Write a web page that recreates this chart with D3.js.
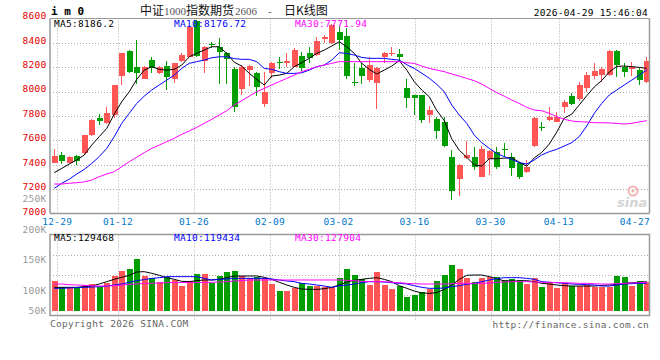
<!DOCTYPE html>
<html><head><meta charset="utf-8">
<script src="https://cdn.jsdelivr.net/npm/d3@7/dist/d3.min.js"></script>
<style>
html,body{margin:0;padding:0;background:#fff;}
svg{display:block;}
.mono{font-family:"DejaVu Sans Mono",monospace;font-size:9.5px;letter-spacing:0.3px;}
</style></head><body>
<svg id="c" width="660" height="360"></svg>
<script>
// ---------- DATA ----------
const dates = ["12-26","12-29","12-30","12-31","01-05","01-06","01-07","01-08","01-09","01-12",
"01-13","01-14","01-15","01-16","01-19","01-20","01-21","01-22","01-23","01-26",
"01-27","01-28","01-29","01-30","02-02","02-03","02-04","02-05","02-06","02-09",
"02-10","02-11","02-12","02-13","02-24","02-25","02-26","02-27","03-02","03-03",
"03-04","03-05","03-06","03-09","03-10","03-11","03-12","03-13","03-16","03-17",
"03-18","03-19","03-20","03-23","03-24","03-25","03-26","03-27","03-30","03-31",
"04-01","04-02","04-03","04-07","04-08","04-09","04-10","04-13","04-14","04-15",
"04-16","04-17","04-20","04-21","04-22","04-23","04-24","04-27","04-28","04-29"];

const open  = [7418,7481,7418,7473,7494,7644,7786,7740,7808,8127,
8332,8204,8105,8258,8154,8209,8100,8253,8286,8575,
8250,8388,8368,8313,8182,8019,8177,8149,7898,8155,
8245,8232,8204,8291,8318,8300,8428,8395,8490,8455,
8081,8190,8095,8068,8281,8305,8305,8027,7972,7972,
7808,7773,7754,7467,7282,7454,7467,7298,7445,7508,
7532,7467,7413,7344,7554,7708,7767,7753,7871,7963,
7936,8026,8128,8136,8136,8334,8204,8182,8177,8081];
const high  = [7527,7505,7473,7483,7647,7773,7816,7871,8054,8318,
8340,8422,8209,8285,8209,8247,8236,8313,8535,8590,
8370,8410,8440,8326,8200,8220,8220,8163,8163,8240,
8281,8313,8354,8326,8368,8450,8463,8553,8531,8520,
8232,8232,8286,8200,8320,8368,8345,8100,7975,7975,
7882,7789,7794,7522,7407,7598,7543,7554,7522,7549,
7576,7494,7426,7440,7790,7753,7871,7833,7931,7985,
8081,8163,8231,8204,8340,8340,8236,8245,8190,8281];
const low   = [7412,7407,7412,7396,7483,7636,7729,7734,7781,8054,
8154,8062,8100,8149,8144,8013,8067,8245,8281,8285,
8150,8355,8058,8060,7835,7975,8046,7963,7871,8108,
8182,8204,8199,8171,8231,8295,8395,8390,8340,8100,
8046,8062,8081,7855,8237,8291,8253,7863,7808,7740,
7740,7609,7550,7112,7145,7445,7358,7298,7317,7363,
7467,7310,7282,7330,7550,7680,7762,7750,7822,7890,
7925,7999,8100,8081,8130,8116,8116,8127,8054,8072];
const close = [7473,7434,7467,7434,7644,7767,7762,7827,8054,8318,
8163,8154,8204,8195,8198,8122,8236,8300,8531,8290,
8362,8380,8325,8268,7871,8204,8209,8040,7999,8237,
8232,8253,8340,8190,8272,8417,8449,8545,8422,8125,
8068,8128,8218,8196,8313,8313,8281,7945,7950,7767,
7849,7680,7555,7189,7399,7481,7380,7527,7513,7380,
7524,7372,7303,7385,7786,7702,7795,7795,7917,7898,
8054,8136,8172,8182,8334,8217,8163,8204,8095,8253];

const ma5  = [7336,7371,7407,7440,7481,7562,7631,7699,7816,7917,
7999,8100,8176,8204,8182,8176,8182,8217,8285,8313,
8340,8367,8367,8313,8240,8209,8149,8100,8054,8127,
8135,8149,8204,8236,8272,8313,8340,8373,8408,8367,
8313,8231,8182,8144,8176,8209,8253,8176,8081,8013,
7958,7845,7762,7612,7520,7462,7400,7390,7450,7450,
7455,7458,7422,7389,7457,7502,7570,7668,7783,7815,
7891,7966,8038,8091,8160,8206,8209,8204,8198,8190];
const ma10 = [7208,7249,7282,7325,7363,7412,7467,7535,7631,7740,
7822,7903,7963,8013,8054,8094,8135,8190,8231,8245,
8258,8277,8285,8285,8270,8264,8264,8245,8190,8182,
8163,8149,8149,8154,8176,8204,8217,8258,8318,8313,
8299,8280,8272,8272,8272,8264,8258,8220,8190,8150,
8110,8059,7999,7890,7808,7740,7644,7582,7535,7494,
7467,7445,7418,7407,7440,7481,7508,7527,7554,7582,
7631,7718,7822,7903,7972,8013,8054,8094,8135,8177];
const ma30 = [7243,7243,7249,7254,7260,7276,7303,7325,7344,7385,
7426,7462,7500,7535,7562,7590,7617,7650,7677,7707,
7740,7773,7808,7843,7890,7925,7963,7999,8026,8054,
8081,8108,8135,8163,8182,8204,8217,8231,8245,8245,
8245,8245,8245,8245,8245,8245,8245,8236,8231,8209,
8190,8176,8163,8144,8127,8108,8089,8062,8026,7991,
7963,7931,7903,7871,7849,7843,7822,7794,7773,7759,
7753,7751,7745,7745,7743,7740,7734,7740,7751,7762];

const volume = [116000,105600,106600,104000,109400,111000,105600,113200,124700,132900,
135700,152100,124700,120400,114800,123000,117600,108200,116000,127500,
127500,112200,124700,130800,132400,124700,120400,123000,120400,111500,
99500,99500,105000,112700,107700,107700,105600,105600,121400,135700,
125800,118700,109400,130800,109400,102800,107700,90100,92900,97900,
102300,116000,125800,142300,135700,121400,114300,121400,123000,122500,
117600,118700,117600,111500,121400,106100,112200,105000,112200,107700,
107700,109400,106600,105600,106600,124700,122500,108200,116000,114800];
const volMa5 = [105500,105500,105500,105500,106600,107700,111000,114900,118700,122000,
125300,130800,131300,128600,125300,121400,118700,115400,114900,116500,
117600,117600,118700,121400,124200,124200,124200,124200,122000,118700,
113800,109400,105500,102800,102200,102200,103300,105500,109400,114300,
117000,118700,120300,121400,118700,114900,108200,103900,99500,96200,
95700,96800,102200,109400,118700,125300,125800,125800,123100,119800,
116000,116000,116000,116500,114900,112100,111000,109400,108200,107700,
107700,107700,107700,108800,109400,110500,112100,113200,113800,114900];
const volMa10 = [103900,103900,104500,105000,105500,106000,106600,107700,109400,111000,
113800,116500,118200,120300,121400,123100,123100,123100,123100,123100,
120300,117600,118700,119200,120300,120300,120300,120300,120300,119200,
117600,116000,114900,112100,111000,109400,107700,105500,108200,109400,
111000,113200,114900,114900,114300,113200,112100,111000,108200,105500,
103900,103900,104400,106600,108200,110500,112100,114900,117600,119800,
121400,121400,121400,120300,118700,114900,113800,113200,112100,111000,
110500,109900,109400,107700,107700,109400,111000,111500,112100,112100];
const volMa30 = [111000,111000,109900,109400,108800,108200,107700,107700,108200,109400,
110500,111000,112100,112100,112700,113200,113500,113500,113500,113500,
113500,113800,114300,114900,116000,116500,117600,117600,117600,117600,
117600,117600,117600,117600,117600,117600,117600,117600,117600,117000,
116500,115400,114900,114900,114900,113800,113200,112100,111500,111000,
111000,111000,111000,111500,112100,112100,112100,112100,112700,113800,
114300,114900,114900,114900,114300,113800,113800,113200,113200,112700,
112100,112100,111500,111000,111000,111500,112100,112700,113200,113800];

const priceTicks = [8600,8400,8200,8000,7800,7600,7400,7200,7000];
const volTicks = [250000,200000,150000,100000,50000];
const volTickLabels = ["250K","200K","150K","100K","50K"];
const dateTicks = ["12-29","01-12","01-26","02-09","03-02","03-16","03-30","04-13","04-27"];
const priceLegend = ["MA5:8186.2","MA10:8176.72","MA30:7771.94"];
const volLegend = ["MA5:129468","MA10:119434","MA30:127904"];
const maColors = ["#000000","#0000ff","#ff00ff"];
const symbol = "i m 0";
const titleParts = ["中证","1000","指数期货","2606","-","日K线图"];
const stamp = "2026-04-29 15:46:04";
const copyright = "Copyright 2026 SINA.COM";
const site = "http://finance.sina.com.cn";

// ---------- LAYOUT ----------
const L = 50, R = 649.5, T = 18.5, B = 213.5, VT = 234.5, VB = 315.5, VBASE = 311;
const UP = "#ff5555", DOWN = "#009e00", GRID = "#aaaaaa", BORDER = "#999999";

const n = dates.length;
const xC = d3.scaleLinear().domain([0, n - 1]).range([53.75, 646.25]);
const xG = d3.scaleLinear().domain([0, n - 1]).range([49.7, 650.1]);
const y = d3.scaleLinear().domain([7000, 8600]).range([213.7, 18.3]);
const yV = d3.scaleLinear().domain([100000, 150000]).range([290.7, 260.3]);

const svg = d3.select("#c");
const defs = svg.append("defs");
defs.append("clipPath").attr("id","cm").append("rect").attr("x",L).attr("y",T).attr("width",R-L).attr("height",B-T);
defs.append("clipPath").attr("id","cv").append("rect").attr("x",L).attr("y",VT).attr("width",R-L).attr("height",VB-VT);

const idx = d3.range(n);
const tickIdx = dateTicks.map(d => dates.indexOf(d));

// ---------- HEADER ----------
svg.append("text").attr("class","mono").attr("x",51).attr("y",15)
  .style("font-weight","bold").style("font-size","11px").style("letter-spacing","0px").attr("fill","#000").text(symbol);

const tPos = [140,164,186,235,268,284];
const title = svg.append("text").attr("y",15).attr("fill","#222");
titleParts.forEach((p,i) => {
  const isNum = /^[0-9\-]+$/.test(p);
  title.append("tspan").attr("x",tPos[i])
    .style("font-family", isNum ? "'Liberation Serif',serif" : "'Noto Sans CJK SC',sans-serif")
    .style("font-size", isNum ? "11px" : "12px")
    .attr("fill", isNum ? "#555" : "#111")
    .text(p);
});
svg.append("text").attr("class","mono").attr("x",648).attr("y",15.5).attr("text-anchor","end").attr("fill","#000").text(stamp);

// ---------- MAIN PANEL ----------
const gm = svg.append("g");
gm.selectAll("line.hg").data(priceTicks.filter(t => t < 8600 && t > 7000)).join("line")
  .attr("x1",L).attr("x2",R).attr("y1",d=>Math.round(y(d))+0.5).attr("y2",d=>Math.round(y(d))+0.5)
  .attr("stroke",GRID).attr("stroke-dasharray","1,2");
const vIdx = tickIdx.filter(i => xG(i) < R - 20);
gm.selectAll("line.vg").data(vIdx).join("line")
  .attr("x1",d=>Math.round(xG(d))+0.5).attr("x2",d=>Math.round(xG(d))+0.5).attr("y1",T).attr("y2",B)
  .attr("stroke",GRID).attr("stroke-dasharray","1,2");

// sina watermark
const wm = svg.append("g");
wm.append("circle").attr("cx",633).attr("cy",191).attr("r",4.5).attr("fill","none").attr("stroke","#f2b5b5").attr("stroke-width",2);
wm.append("circle").attr("cx",633).attr("cy",191).attr("r",1.6).attr("fill","#f2b5b5");
wm.append("text").attr("x",617).attr("y",207).style("font-family","'DejaVu Sans',sans-serif")
  .style("font-size","13px").style("font-style","italic").style("font-weight","bold").attr("fill","#d4d4d4").text("sina");

const cm = gm.append("g").attr("clip-path","url(#cm)");
const cx = i => Math.round(xC(i));
cm.selectAll("line.wick").data(idx).join("line")
  .attr("x1",i=>cx(i)+0.5).attr("x2",i=>cx(i)+0.5)
  .attr("y1",i=>y(high[i])).attr("y2",i=>y(low[i]))
  .attr("stroke",i=>close[i]>=open[i]?UP:DOWN).attr("stroke-width",1).attr("shape-rendering","crispEdges");
cm.selectAll("rect.body").data(idx).join("rect")
  .attr("x",i=>cx(i)-2.5).attr("width",6)
  .attr("y",i=>y(Math.max(open[i],close[i])))
  .attr("height",i=>Math.max(1, Math.abs(y(open[i])-y(close[i]))))
  .attr("fill",i=>close[i]>=open[i]?UP:DOWN).attr("shape-rendering","crispEdges");
[ma5, ma10, ma30].forEach((arr,k) => {
  cm.append("path").datum(idx)
    .attr("d", d3.line().x(i=>xC(i)+0.5).y(i=>y(arr[i])))
    .attr("fill","none").attr("stroke",maColors[k]).attr("stroke-width",1);
});
gm.append("line").attr("x1",L).attr("x2",R).attr("y1",T).attr("y2",T).attr("stroke",BORDER);
gm.append("line").attr("x1",L).attr("x2",L).attr("y1",T).attr("y2",B).attr("stroke",BORDER).attr("stroke-width",1.5);
gm.append("line").attr("x1",R).attr("x2",R).attr("y1",T).attr("y2",B).attr("stroke",BORDER).attr("stroke-width",1.5);
gm.append("line").attr("x1",L).attr("x2",R).attr("y1",B).attr("y2",B).attr("stroke",BORDER).attr("stroke-width",1.5);

svg.selectAll("text.pl").data(priceTicks).join("text").attr("class","mono")
  .attr("x",46.5).attr("y",d=>y(d)+0.8).attr("text-anchor","end").attr("fill","#e60000").text(d=>d);
const legX = [54, 174, 295];
svg.selectAll("text.lg").data(priceLegend).join("text").attr("class","mono")
  .attr("x",(d,i)=>legX[i]).attr("y",27.3).attr("fill",(d,i)=>maColors[i]).text(d=>d);

svg.selectAll("text.dl").data(tickIdx).join("text").attr("class","mono")
  .attr("x",d=>xG(d)).attr("y",224.5).attr("text-anchor","middle").attr("fill","#0077cc")
  .text((d,i)=>dateTicks[i]);

// ---------- VOLUME PANEL ----------
const gv = svg.append("g");
gv.selectAll("line.vh").data([1,2,3]).join("line")
  .attr("x1",L).attr("x2",R).attr("y1",k=>Math.round(VT+k*(VB-VT)/4)+0.5).attr("y2",k=>Math.round(VT+k*(VB-VT)/4)+0.5)
  .attr("stroke",GRID).attr("stroke-dasharray","1,2");
gv.selectAll("line.vv").data(vIdx).join("line")
  .attr("x1",d=>Math.round(xG(d))+0.5).attr("x2",d=>Math.round(xG(d))+0.5).attr("y1",VT).attr("y2",VB+4)
  .attr("stroke",GRID).attr("stroke-dasharray","1,2");
const cv = gv.append("g").attr("clip-path","url(#cv)");
cv.selectAll("rect.vb").data(idx).join("rect")
  .attr("x",i=>cx(i)-2.5).attr("width",6)
  .attr("y",i=>yV(volume[i])).attr("height",i=>Math.max(0,VBASE-yV(volume[i])))
  .attr("fill",i=>close[i]>=open[i]?UP:DOWN).attr("shape-rendering","crispEdges");
[volMa5, volMa10, volMa30].forEach((arr,k) => {
  cv.append("path").datum(idx)
    .attr("d", d3.line().x(i=>xC(i)+0.5).y(i=>yV(arr[i])))
    .attr("fill","none").attr("stroke",maColors[k]).attr("stroke-width",1);
});
gv.append("rect").attr("x",L).attr("y",VT).attr("width",R-L).attr("height",VB-VT)
  .attr("fill","none").attr("stroke",BORDER).attr("stroke-width",1.5);

svg.selectAll("text.vl").data(volTicks).join("text").attr("class","mono")
  .attr("x",46.5).attr("y",d=>Math.min(yV(d),310.7)+2.8).attr("text-anchor","end").attr("fill","#999")
  .text((d,i)=>volTickLabels[i]);
svg.selectAll("text.vlg").data(volLegend).join("text").attr("class","mono")
  .attr("x",(d,i)=>legX[i]).attr("y",241).attr("fill",(d,i)=>maColors[i]).text(d=>d);

svg.append("text").attr("class","mono").attr("x",50).attr("y",327).attr("fill","#666").text(copyright);
svg.append("text").attr("class","mono").attr("x",649).attr("y",327.5).attr("text-anchor","end").attr("fill","#666").text(site);
</script>
</body></html>
